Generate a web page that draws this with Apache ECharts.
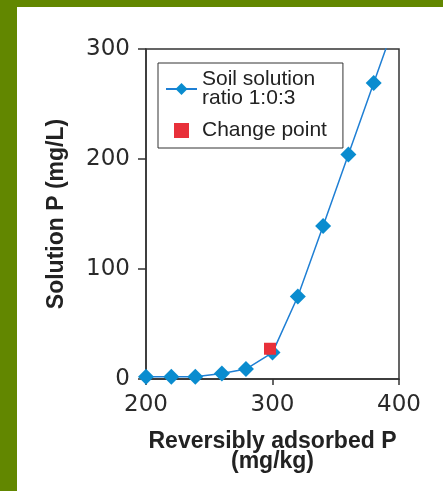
<!DOCTYPE html>
<html>
<head>
<meta charset="utf-8">
<script src="https://cdn.jsdelivr.net/npm/echarts@6/dist/echarts.min.js"></script>
<style>
    html, body { margin: 0; padding: 0; background: #fff; }
    #chart { position: absolute; left: 0; top: 0; width: 443px; height: 491px; }
    .band { position: absolute; background: #628700; z-index: 2; }
</style>
</head>
<body>
<div id="chart"></div>
<div class="band" style="left:0;top:0;width:443px;height:7px;"></div>
<div class="band" style="left:0;top:0;width:17px;height:491px;"></div>

<script type="text/javascript">
    // adsorbed P (mg/kg) vs solution P (mg/L)
    var adsorbedP = [200, 220, 239, 260, 279, 300, 320, 340, 360, 380, 400];
    var solutionP = [2, 2, 2, 5, 9, 24, 75, 139, 204, 269, 334];
    var changePoint = [298, 27.5];

    var xTicks = [200, 300, 400];
    var yTicks = [0, 100, 200, 300];

    var lineData = adsorbedP.map(function (x, i) { return [x, solutionP[i]]; });

    var chart = echarts.init(document.getElementById('chart'));
    chart.setOption({
        animation: false,
        grid: {
            left: 146, top: 49, right: 44, bottom: 112,
            show: true, borderColor: '#333', borderWidth: 1.5
        },
        legend: {
            left: 158, top: 63,
            orient: 'vertical',
            backgroundColor: '#fff',
            borderColor: '#333', borderWidth: 1,
            padding: [6, 16, 7, 7],
            itemGap: 11,
            itemWidth: 31, itemHeight: 15,
            symbolKeepAspect: true,
            textStyle: { fontFamily: 'Liberation Sans', fontSize: 21, lineHeight: 19, color: '#222' },
            data: [
                'Soil solution\nratio 1:0:3',
                // small square icon, padded so it draws smaller than the item box
                { name: 'Change point', icon: 'path://M0,0h11v11h-11z' }
            ]
        },
        xAxis: {
            type: 'value',
            min: xTicks[0], max: xTicks[xTicks.length - 1], interval: 100,
            name: 'Reversibly adsorbed P\n(mg/kg)',
            nameLocation: 'middle', nameGap: 53,
            nameTextStyle: { fontFamily: 'Liberation Sans', fontWeight: 'bold', fontSize: 23, lineHeight: 20, color: '#222' },
            axisLine: { lineStyle: { color: '#333', width: 1.5 } },
            axisTick: { show: true, length: 6, lineStyle: { color: '#333', width: 1.5 } },
            axisLabel: { margin: 15, fontFamily: 'DejaVu Sans', fontSize: 23, color: '#2a2a2a' },
            splitLine: { show: false }
        },
        yAxis: {
            type: 'value',
            min: yTicks[0], max: yTicks[yTicks.length - 1], interval: 100,
            name: 'Solution P (mg/L)',
            nameLocation: 'middle', nameGap: 78,
            nameTextStyle: { fontFamily: 'Liberation Sans', fontWeight: 'bold', fontSize: 23, color: '#222' },
            axisLine: { show: true, lineStyle: { color: '#333', width: 1.5 } },
            axisTick: { show: true, length: 8, lineStyle: { color: '#333', width: 1.5 } },
            axisLabel: { margin: 16, fontFamily: 'DejaVu Sans', fontSize: 23, color: '#2a2a2a' },
            splitLine: { show: false }
        },
        series: [
            {
                name: 'Soil solution\nratio 1:0:3',
                type: 'line',
                data: lineData,
                clip: true,
                symbol: 'diamond',
                symbolSize: 16,
                lineStyle: { color: '#1f7fd4', width: 1.5 },
                itemStyle: { color: '#0a8ccf' },
                z: 2
            },
            {
                name: 'Change point',
                type: 'scatter',
                data: [changePoint],
                symbol: 'rect',
                symbolSize: 12,
                itemStyle: { color: '#e8303a', opacity: 1 },
                z: 3
            }
        ]
    });
</script>
</body>
</html>
